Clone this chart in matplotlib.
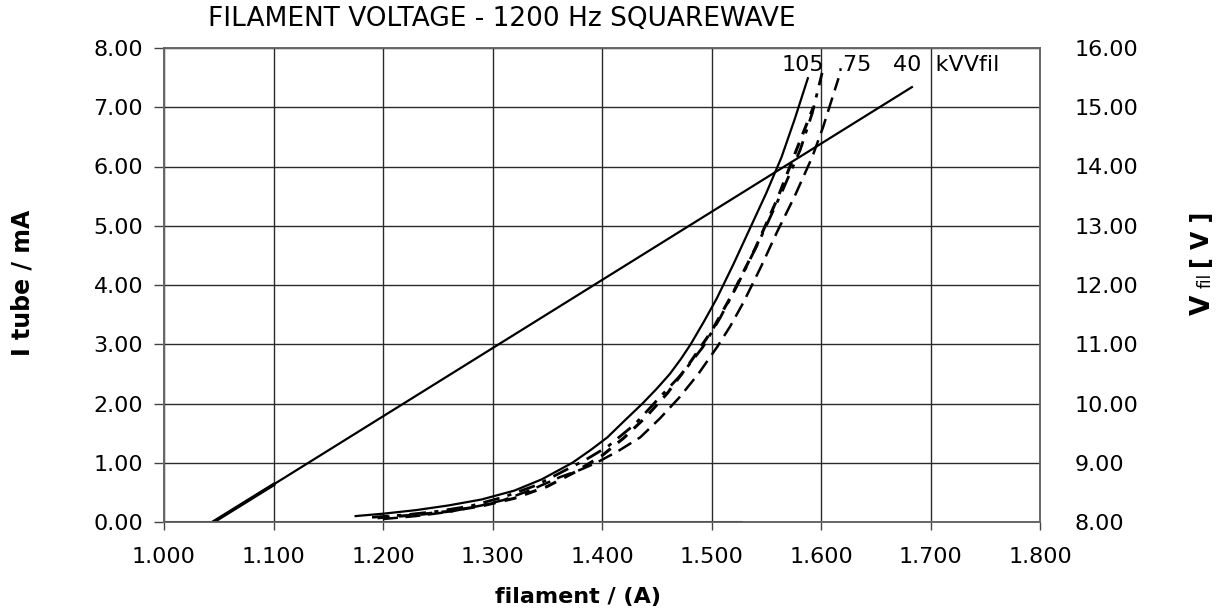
import matplotlib
matplotlib.use("Agg")
import matplotlib.pyplot as plt

plt.rcParams['font.family'] = ['DejaVu Sans']

# ---- data ----
x_ticks = [1.0, 1.1, 1.2, 1.3, 1.4, 1.5, 1.6, 1.7, 1.8]
y_ticks = [0, 1, 2, 3, 4, 5, 6, 7, 8]
v_ticks = [8, 9, 10, 11, 12, 13, 14, 15, 16]

kv105_x = [1.175, 1.200, 1.230, 1.260, 1.290, 1.320, 1.345, 1.373, 1.390, 1.405, 1.420, 1.437,
           1.450, 1.462, 1.472, 1.481, 1.493, 1.505, 1.520, 1.535, 1.550, 1.564, 1.576, 1.588]
kv105_y = [0.10, 0.14, 0.20, 0.28, 0.38, 0.53, 0.72, 1.00, 1.22, 1.43, 1.70, 2.00,
           2.25, 2.50, 2.75, 3.00, 3.38, 3.78, 4.35, 4.95, 5.55, 6.16, 6.80, 7.49]

kv75_x = [1.190, 1.220, 1.250, 1.280, 1.310, 1.340, 1.364, 1.385, 1.405, 1.430, 1.453, 1.473,
          1.492, 1.508, 1.525, 1.545, 1.565, 1.581, 1.592, 1.601]
kv75_y = [0.08, 0.12, 0.18, 0.27, 0.42, 0.62, 0.85, 1.05, 1.27, 1.65, 2.11, 2.50,
          2.95, 3.45, 4.05, 4.80, 5.60, 6.28, 6.90, 7.58]

kv60_x = [1.195, 1.230, 1.260, 1.290, 1.320, 1.350, 1.375, 1.400, 1.420, 1.440, 1.460, 1.480,
          1.500, 1.520, 1.540, 1.560, 1.578, 1.593]
kv60_y = [0.07, 0.12, 0.18, 0.27, 0.40, 0.60, 0.84, 1.12, 1.42, 1.77, 2.18, 2.68,
          3.22, 3.88, 4.62, 5.45, 6.30, 7.00]

kv40_x = [1.200, 1.230, 1.260, 1.290, 1.310, 1.335, 1.362, 1.380, 1.395, 1.415, 1.435, 1.453,
          1.471, 1.488, 1.505, 1.517, 1.529, 1.545, 1.560, 1.576, 1.592, 1.602, 1.616]
kv40_y = [0.05, 0.10, 0.17, 0.28, 0.37, 0.54, 0.76, 0.88, 1.00, 1.20, 1.43, 1.75,
          2.11, 2.50, 2.95, 3.30, 3.70, 4.30, 4.90, 5.50, 6.16, 6.67, 7.49]

vfil_x = [1.045, 1.683]
vfil_v = [8.00, 15.34]
vfil_bold_x = [1.045, 1.100]
vfil_bold_v = [8.00, 8.63]

base_x = [1.000, 1.528]
base_y = [0.0, 0.0]

# ---- figure ----
fig = plt.figure(figsize=(12.27, 6.14), dpi=100)
ax = fig.add_axes([164/1227, 1-522/614, (1040-164)/1227, (522-48)/614])
ax2 = ax.twinx()

ax.set_xlim(1.0, 1.8)
ax.set_ylim(0, 8)
ax2.set_ylim(8, 16)

ax.set_xticks(x_ticks)
ax.set_xticklabels([f"{v:.3f}" for v in x_ticks])
ax.set_yticks(y_ticks)
ax.set_yticklabels([f"{v:.2f}" for v in y_ticks])
ax2.set_yticks(v_ticks)
ax2.set_yticklabels([f"{v:.2f}" for v in v_ticks])

ax.grid(True, color='#2a2a2a', linewidth=1.0)
ax.set_axisbelow(True)

for a in (ax, ax2):
    for s in a.spines.values():
        s.set_color('#666666')
        s.set_linewidth(1.2)

ax.tick_params(axis='x', direction='out', length=6, width=1, color='#444444', labelsize=16, pad=12)
ax.tick_params(axis='y', direction='out', length=7, width=1, color='#444444', labelsize=16, pad=8)
ax2.tick_params(axis='y', direction='out', length=0, labelsize=16, pad=25)

lc = 'black'
ax.plot(base_x, base_y, color=lc, linewidth=2.2, solid_capstyle='butt', zorder=3)
ax.plot(kv105_x, kv105_y, color=lc, linewidth=1.6, linestyle='-')
ax.plot(kv75_x, kv75_y, color=lc, linewidth=2.0, linestyle=(0, (6, 3, 1.5, 3)))
ax.plot(kv60_x, kv60_y, color=lc, linewidth=2.2, linestyle=(0, (4, 3)))
ax.plot(kv40_x, kv40_y, color=lc, linewidth=1.8, linestyle=(0, (6, 3)))
ax2.plot(vfil_x, vfil_v, color=lc, linewidth=1.6)
ax2.plot(vfil_bold_x, vfil_bold_v, color=lc, linewidth=2.6)

# curve labels
ax.text(1.583, 7.55, "105", fontsize=16, ha='center', va='bottom')
ax.text(1.614, 7.55, ".75", fontsize=16, ha='left', va='bottom')
ax.text(1.666, 7.55, "40  kVVfil", fontsize=16, ha='left', va='bottom')

# title and axis labels
fig.text(502/1227, 1-19/614, "FILAMENT VOLTAGE - 1200 Hz SQUAREWAVE", fontsize=19, ha='center', va='center')
fig.text(578/1227, 1-597/614, "filament / (A)", fontsize=16, fontweight='bold', ha='center', va='center')
fig.text(23/1227, 1-283/614, "I tube / mA", fontsize=17, fontweight='bold', ha='center', va='center', rotation=90)
fig.text(1203/1227, 1-305/614, "V", fontsize=19, fontweight='bold', ha='center', va='center', rotation=90)
fig.text(1206/1227, 1-280/614, "fil", fontsize=12, ha='center', va='center', rotation=90)
fig.text(1202/1227, 1-240/614, "[ V ]", fontsize=17, fontweight='bold', ha='center', va='center', rotation=90)

fig.savefig("out.png", dpi=100)
